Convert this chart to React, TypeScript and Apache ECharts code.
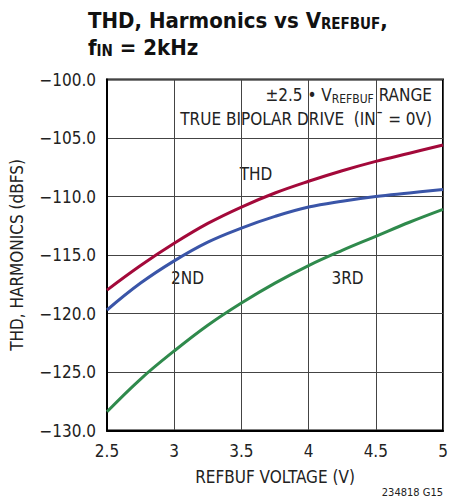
import React, { useEffect, useRef } from "react";
import * as echarts from "echarts";

const voltages = [2.5, 2.75, 3, 3.25, 3.5, 3.75, 4, 4.25, 4.5, 4.75, 5];
const thd = [-118.0, -115.9, -114.0, -112.3, -110.9, -109.7, -108.7, -107.8, -107.0, -106.3, -105.6];
const second = [-119.7, -117.4, -115.5, -113.9, -112.7, -111.7, -110.9, -110.4, -110.0, -109.7, -109.4];
const third = [-128.4, -125.6, -123.2, -121.0, -119.1, -117.4, -115.9, -114.6, -113.4, -112.2, -111.1];

const FONT = "'Liberation Sans Narrow', 'DejaVu Sans Condensed', 'Roboto', sans-serif";

export default function App() {
  const ref = useRef<HTMLDivElement>(null);
  useEffect(() => {
    if (!ref.current) return;
    const chart = echarts.init(ref.current, undefined, { renderer: "svg" });
    const pairs = (ys: number[]) => voltages.map((v, i) => [v, ys[i]]);
    const mk = (name: string, ys: number[], color: string) => ({
      name,
      type: "line",
      data: pairs(ys),
      smooth: 0.4,
      showSymbol: false,
      lineStyle: { color, width: 3 },
      z: 3,
    });
    const titleRich = {
      a: { fontSize: 22, fontWeight: "bold", lineHeight: 23, fontFamily: FONT, fill: "#111" },
      s: { fontSize: 15, fontWeight: "bold", lineHeight: 9, verticalAlign: "bottom", fontFamily: FONT, fill: "#111" },
    };
    chart.setOption({
      animation: false,
      backgroundColor: "#fff",
      textStyle: { fontFamily: FONT },
      grid: { left: 92, right: 28, top: 79.5, bottom: 71.5, show: true, borderColor: "#000", borderWidth: 2, containLabel: false },
      xAxis: {
        type: "value",
        min: 2.5,
        max: 5,
        interval: 0.5,
        name: "REFBUF VOLTAGE (V)",
        nameLocation: "middle",
        nameGap: 38,
        nameTextStyle: { fontSize: 17, color: "#222", fontFamily: FONT },
        axisLine: { show: true, lineStyle: { color: "#000", width: 2 } },
        axisTick: { show: false },
        axisLabel: { fontSize: 17, color: "#222", margin: 12, fontFamily: FONT },
        splitLine: { show: true, lineStyle: { color: "#444", width: 1 } },
      },
      yAxis: {
        type: "value",
        min: -130,
        max: -100,
        interval: 5,
        name: "THD, HARMONICS (dBFS)",
        nameLocation: "middle",
        nameGap: 82,
        nameTextStyle: { fontSize: 17, color: "#222", fontFamily: FONT },
        axisLine: { show: true, lineStyle: { color: "#000", width: 2 } },
        axisTick: { show: false },
        axisLabel: {
          fontSize: 17,
          color: "#222",
          margin: 11,
          fontFamily: FONT,
          formatter: (v: number) => (v < 0 ? "\u2212" + Math.abs(v).toFixed(1) : v.toFixed(1)),
        },
        splitLine: { show: true, lineStyle: { color: "#444", width: 1 } },
      },
      series: [mk("THD", thd, "#a3093a"), mk("2ND", second, "#3a55a8"), mk("3RD", third, "#2f8a4c")],
      graphic: [
        {
          type: "text",
          left: 88,
          top: 9,
          style: { text: "{a|THD, Harmonics vs V}{s|REFBUF}{a|,}", rich: titleRich },
        },
        {
          type: "text",
          left: 88,
          top: 36,
          style: { text: "{a|f}{s|IN}{a| = 2kHz}", rich: titleRich },
        },
        {
          type: "text",
          right: 39,
          top: 86,
          style: {
            text: "{a|\u00b12.5 \u2022 V}{s|REFBUF}{a| RANGE}",
            align: "right",
            rich: {
              a: { fontSize: 17, lineHeight: 20, fontFamily: FONT, fill: "#222" },
              s: { fontSize: 12, lineHeight: 9, verticalAlign: "bottom", fontFamily: FONT, fill: "#222" },
            },
          },
        },
        {
          type: "text",
          right: 39,
          top: 110,
          style: { text: "TRUE BIPOLAR DRIVE  (IN\u00af = 0V)", fontSize: 17, fontFamily: FONT, fill: "#222", align: "right" },
        },
        { type: "text", x: 256, y: 174, style: { text: "THD", fontSize: 17, fontFamily: FONT, fill: "#222", align: "center", verticalAlign: "middle" } },
        { type: "text", x: 187.5, y: 277.5, style: { text: "2ND", fontSize: 17, fontFamily: FONT, fill: "#222", align: "center", verticalAlign: "middle" } },
        { type: "text", x: 347.5, y: 277.5, style: { text: "3RD", fontSize: 17, fontFamily: FONT, fill: "#222", align: "center", verticalAlign: "middle" } },
        { type: "text", x: 443, y: 492.5, style: { text: "234818 G15", fontSize: 11, fontFamily: FONT, fill: "#222", align: "right", verticalAlign: "middle" } },
      ],
    });
    return () => chart.dispose();
  }, []);
  return <div ref={ref} style={{ width: 471, height: 502, position: "absolute", left: 0, top: 0 }} />;
}
